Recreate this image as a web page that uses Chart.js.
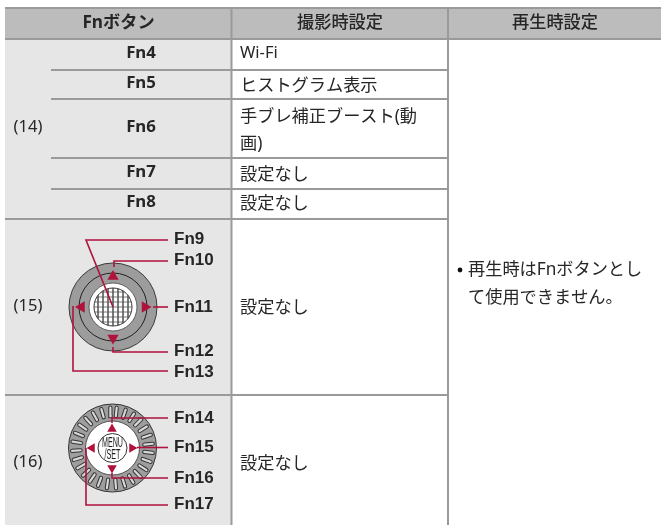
<!DOCTYPE html>
<html lang="ja">
<head>
<meta charset="utf-8">
<script src="https://cdn.jsdelivr.net/npm/chart.js@4"></script>
<style>html,body{margin:0;padding:0;background:#fff}canvas{display:block}</style>
</head>
<body>
<canvas id="c" width="661" height="525"></canvas>
<script>
// ---- table content ----
const headers = ["Fnボタン", "撮影時設定", "再生時設定"];
const groupLabels = ["(14)", "(15)", "(16)"];
const fnRows = ["Fn4", "Fn5", "Fn6", "Fn7", "Fn8"];
const recordingSettings = ["Wi-Fi", "ヒストグラム表示", "手ブレ補正ブースト(動", "画)", "設定なし", "設定なし", "設定なし", "設定なし"];
const playbackLines = ["再生時はFnボタンとし", "て使用できません。"];
const dialOneLabels = ["Fn9", "Fn10", "Fn11", "Fn12", "Fn13"];
const dialTwoLabels = ["Fn14", "Fn15", "Fn16", "Fn17"];
const dialCenterText = ["MENU", "/SET"];
// ---- diagram geometry ----
const rowRules = [70, 99, 158, 189];
const sectionRules = [219, 395];
const gridOffsets = [-15, -10, -5, 0, 5, 10, 15];
const ribAngles = [6,19,32,45,58,71,84,97,110,123,136,149,162,175,188,201,214,227,240,253,266,279,292,305,318,331,344,357];

const ink = "#262626", rule = "#9a9a9a", headFill = "#bcbcbc", sideFill = "#e6e6e6", red = "#b0123c";
const ds = [];
const add = d => ds.push(Object.assign({showLine:true,pointRadius:0,borderJoinStyle:"miter",tension:0,clip:false,fill:false},d));
const seg = (pts,color,width,cap) => add({data:pts.map(p=>({x:p[0],y:p[1]})),borderColor:color,borderWidth:width,borderCapStyle:cap||"butt"});
const rect = (x0,y0,x1,y1,color) => add({data:[{x:x0,y:y0},{x:x1,y:y0},{x:x1,y:y1},{x:x0,y:y1},{x:x0,y:y0}],borderWidth:0,backgroundColor:color,fill:"shape"});
const dot = (x,y,r,fill,stroke,sw) => add({showLine:false,data:[{x,y}],pointStyle:"circle",pointRadius:r,pointBackgroundColor:fill,pointBorderColor:stroke||fill,pointBorderWidth:sw||0});
const tri = (x,y,r,rot) => add({showLine:false,data:[{x,y}],pointStyle:"triangle",pointRadius:r,pointRotation:rot,pointBackgroundColor:red,pointBorderColor:red,pointBorderWidth:0});

// cell fills
rect(5,8,661,39,headFill);
rect(5,39,231,525,sideFill);
// rules
seg([[5,8],[661,8]],rule,2);
seg([[5,39],[661,39]],rule,2);
rowRules.forEach(y=>seg([[51,y],[448,y]],rule,2));
sectionRules.forEach(y=>seg([[5,y],[448,y]],rule,2));
seg([[231.5,8],[231.5,525]],rule,2);
seg([[448,8],[448,525]],rule,2);

// dial 1
const c1=[113,307];
dot(c1[0],c1[1],44,"#9c9c9c","#3a3a3a",1);
dot(c1[0],c1[1],34,"#9c9c9c","#222",1);
dot(c1[0],c1[1],24,"#fff","#444",0.8);
dot(c1[0],c1[1],19,"#fff","#333",1);
gridOffsets.forEach(o=>{
  const h=Math.sqrt(19*19-o*o);
  seg([[c1[0]+o,c1[1]-h],[c1[0]+o,c1[1]+h]],"#555",0.8);
  seg([[c1[0]-h,c1[1]+o],[c1[0]+h,c1[1]+o]],"#555",0.8);
});
tri(113,276.5,6.5,0); tri(113,338,6.5,180); tri(81.5,307,6.5,270); tri(145,307,6.5,90);
seg([[168,240],[86,240],[113,307]],red,1.6);
seg([[168,261],[114,261],[114,267]],red,1.6);
seg([[168,307],[153,307]],red,1.6);
seg([[168,352],[113,352],[113,347]],red,1.6);
seg([[168,371],[73,371],[73,306]],red,1.6);

// dial 2
const c2=[112.5,448];
dot(c2[0],c2[1],44,"#9e9e9e","#333",1);
ribAngles.forEach(a=>{
  const t=a*Math.PI/180, s=Math.sin(t), k=Math.cos(t);
  const p=[[c2[0]+s*32,c2[1]-k*32],[c2[0]+s*40.5,c2[1]-k*40.5]];
  seg(p,"#333",4.2,"round");
  seg(p,"#d8d8d8",2.2,"round");
});
dot(c2[0],c2[1],27,"#fff","#333",0.8);
dot(c2[0],c2[1],14.5,"#fff","#333",1);
tri(112,429,5.5,0); tri(112,468,5.5,180); tri(92,448,5.5,270); tri(132,448,5.5,90);
seg([[168,418],[112,418],[112,423]],red,1.6);
seg([[168,447.5],[137,447.5]],red,1.6);
seg([[168,478],[112,478],[112,473]],red,1.6);
seg([[168,505],[86,505],[86,448]],red,1.6);

// later datasets paint on top
ds.forEach((d,i)=>{d.order=ds.length-i;});

const sans='"Noto Sans","Noto Sans CJK JP",sans-serif';
const arial='"Liberation Sans",Arial,sans-serif';
const texts=[];
const put=(s,x,y,font,align,color,maxW)=>texts.push({s,x,y,font,align:align||"left",color:color||ink,maxW});
const bold=`bold 16.8px ${sans}`, reg=`17.2px ${sans}`, latin=`16.5px ${sans}`;
put(headers[0],118.5,23,`bold 17.2px ${sans}`,"center");
put(headers[1],340,23,`500 17.2px ${sans}`,"center");
put(headers[2],555,23,`500 17.2px ${sans}`,"center");
[53,83,127,172,202].forEach((y,i)=>put(fnRows[i],141,y,bold,"center"));
[127,306,462].forEach((y,i)=>put(groupLabels[i],28,y,latin,"center"));
[53,86,117,144,175,204,308,464].forEach((y,i)=>put(recordingSettings[i],240,y,i===0?latin:reg));
put(playbackLines[0],468,270,reg); put(playbackLines[1],468,298,reg);
const lb=`bold 17px ${arial}`;
[239,260,307,351,372].forEach((y,i)=>put(dialOneLabels[i],174,y,lb));
[418,447,478,504].forEach((y,i)=>put(dialTwoLabels[i],174,y,lb));
put(dialCenterText[0],112.5,443.5,`14px ${arial}`,"center","#222",21);
put(dialCenterText[1],112.5,455,`14px ${arial}`,"center","#222",16);

const textPlugin={id:"tableText",afterDatasetsDraw(chart){
  const ctx=chart.ctx; ctx.save(); ctx.textBaseline="middle";
  const X=chart.scales.x,Y=chart.scales.y;
  texts.forEach(t=>{ctx.font=t.font;ctx.fillStyle=t.color;ctx.textAlign=t.align;
    if(t.maxW)ctx.fillText(t.s,X.getPixelForValue(t.x),Y.getPixelForValue(t.y),t.maxW);
    else ctx.fillText(t.s,X.getPixelForValue(t.x),Y.getPixelForValue(t.y));});
  // list bullet
  ctx.beginPath();ctx.fillStyle="#111";ctx.arc(X.getPixelForValue(460),Y.getPixelForValue(270),2.4,0,Math.PI*2);ctx.fill();
  ctx.restore();
}};

new Chart(document.getElementById("c"),{
  type:"scatter",
  data:{datasets:ds},
  options:{responsive:false,animation:false,events:[],
    layout:{padding:0,autoPadding:false},
    plugins:{legend:{display:false},tooltip:{enabled:false},title:{display:false}},
    scales:{x:{type:"linear",min:0,max:661,display:false},y:{type:"linear",min:0,max:525,reverse:true,display:false}}
  },
  plugins:[textPlugin]
});
</script>
</body>
</html>
